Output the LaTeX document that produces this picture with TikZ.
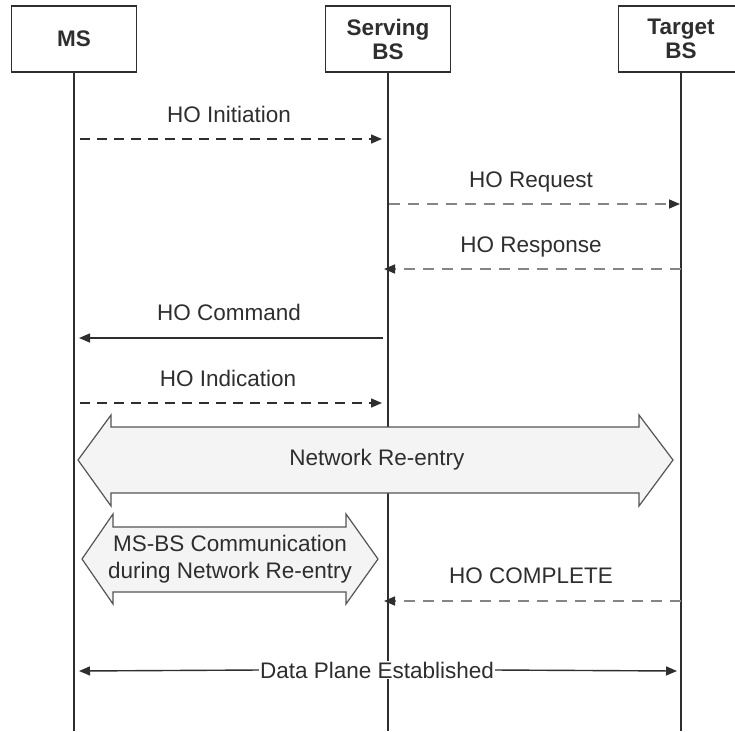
\documentclass[tikz,border=0pt]{standalone}
\usepackage{fontspec}
\setmainfont{Liberation Sans}
\usetikzlibrary{arrows.meta}
\definecolor{ink}{HTML}{2E2E2E}
\definecolor{lgray}{HTML}{858585}
\definecolor{afill}{HTML}{F4F4F4}
\definecolor{aline}{HTML}{555555}
\begin{document}
\begin{tikzpicture}[x=1pt,y=1pt,
  every node/.style={text=ink, font=\fontsize{22.5}{25}\selectfont},
  hdr/.style={draw=ink, line width=1.3pt, fill=white, minimum width=125pt, minimum height=66pt, align=center, font=\bfseries\fontsize{22.5}{24}\selectfont},
  life/.style={draw=ink, line width=1.3pt},
  tip/.style={-{Triangle[length=11pt,width=9pt,color=ink]}},
  msgblack/.style={ink, line width=1.4pt, dash pattern=on 10pt off 7pt, tip},
  msggray/.style={lgray, line width=1.6pt, dash pattern=on 11pt off 8pt, tip},
  msgsolid/.style={ink, line width=1.5pt, tip},
  lbl/.style={inner sep=1pt},
  bigarrow/.style={draw=aline, line width=1.2pt, fill=afill, line join=miter}
]
\useasboundingbox (0,0) rectangle (735,-731);

% header boxes
\node[hdr] (ms) at (74,-39) {MS};
\node[hdr] (sbs) at (388,-39) {Serving\\BS};
\node[hdr] (tbs) at (681,-39) {Target\\BS};

% lifeline ends
\coordinate (msEnd) at (74,-731);
\coordinate (sbsEnd) at (388,-731);
\coordinate (tbsEnd) at (681,-731);
\draw[life] (ms.south) -- (msEnd);
\draw[life] (sbs.south) -- (sbsEnd);
\draw[life] (tbs.south) -- (tbsEnd);

% message anchor points
\coordinate (a1) at (80,-139);  \coordinate (b1) at (382,-139);
\coordinate (a2) at (389,-204); \coordinate (b2) at (680,-204);
\coordinate (a3) at (681,-269); \coordinate (b3) at (384,-269);
\coordinate (a4) at (383,-338); \coordinate (b4) at (79,-338);
\coordinate (a5) at (80,-403);  \coordinate (b5) at (382,-403);
\coordinate (a6) at (681,-601); \coordinate (b6) at (384,-601);

\draw[msgblack] (a1) -- (b1);
\node[lbl] (l1) at (229,-114) {HO Initiation};
\draw[msggray] (a2) -- (b2);
\node[lbl] (l2) at (531,-182) {HO Request};
\draw[msggray] (a3) -- (b3);
\node[lbl] (l3) at (531,-247) {HO Response};
\draw[msgsolid] (a4) -- (b4);
\node[lbl] (l4) at (229,-312) {HO Command};
\draw[msgblack] (a5) -- (b5);
\node[lbl] (l5) at (228,-378) {HO Indication};

% Network re-entry big double arrow
\draw[bigarrow] (78,-460) -- (111,-415) -- (111,-427) -- (639,-427) -- (639,-415)
  -- (673,-460) -- (639,-506) -- (639,-493) -- (111,-493) -- (111,-506) -- cycle;
\node[lbl] (nre) at (377,-460) {Network Re-entry};

% MS-BS communication double arrow
\draw[bigarrow] (82,-559) -- (113,-514) -- (113,-527) -- (346,-527) -- (346,-514)
  -- (378,-559) -- (346,-604) -- (346,-592) -- (113,-592) -- (113,-604) -- cycle;
\node[lbl, align=center, font=\fontsize{22.5}{27}\selectfont] (msbs) at (230,-559) {MS-BS Communication\\during Network Re-entry};

% HO complete
\draw[msggray] (a6) -- (b6);
\node[lbl] (l6) at (531,-576) {HO COMPLETE};

% Data plane established
\coordinate (dl) at (79,-671);
\coordinate (dr) at (677,-671);
\node[fill=white, inner sep=1pt] (dp) at (377,-670) {Data Plane Established};
\draw[ink, line width=1.4pt, -{Triangle[length=11pt,width=9pt,color=ink]}] (dp.west) -- (dl);
\draw[ink, line width=1.4pt, -{Triangle[length=11pt,width=9pt,color=ink]}] (dp.east) -- (dr);
\end{tikzpicture}
\end{document}
